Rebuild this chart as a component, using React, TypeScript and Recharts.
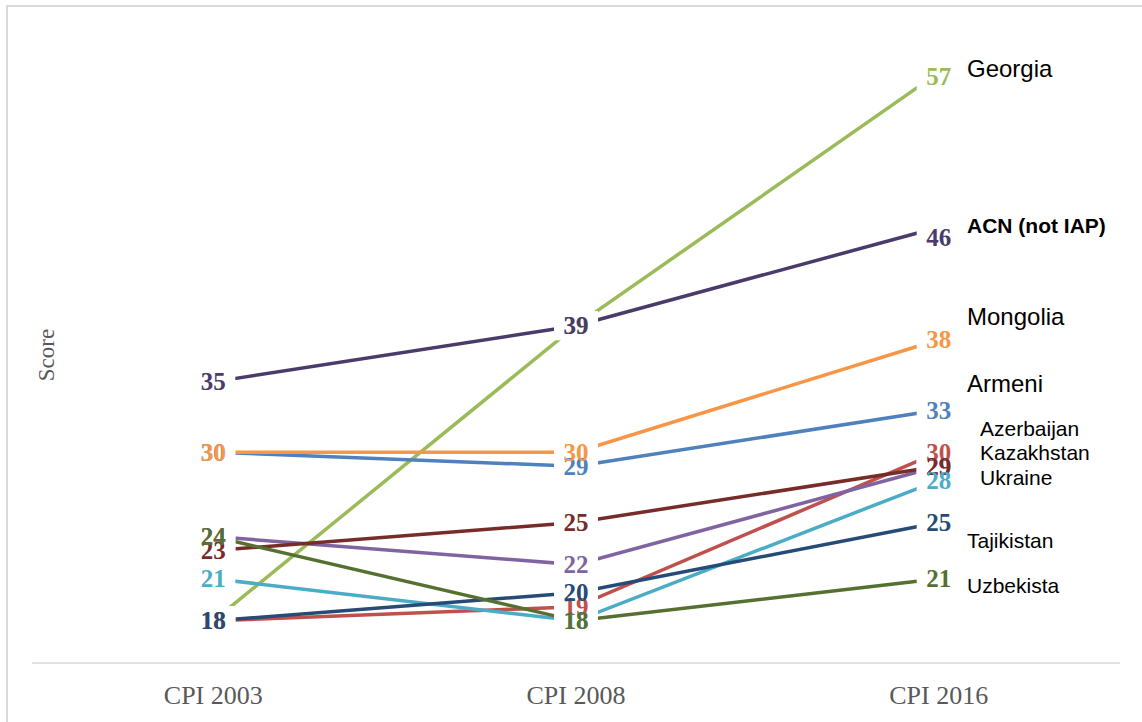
import React from 'react';
import { LineChart, Line, XAxis, YAxis, LabelList } from 'recharts';

const categories = ['CPI 2003', 'CPI 2008', 'CPI 2016'];
const georgia = [18, 39, 57];
const acn = [35, 39, 46];
const mongolia = [30, 30, 38];
const armenia = [30, 29, 33];
const azerbaijan = [18, 19, 30];
const kazakhstan = [23, 25, 29];
const ukraine = [24, 22, 29];
const kyrgyzstan = [21, 18, 28];
const tajikistan = [18, 20, 25];
const uzbekistan = [24, 18, 21];

const series = [
  { key: 'georgia', values: georgia, color: '#9BBB59' },
  { key: 'armenia', values: armenia, color: '#4F81BD' },
  { key: 'azerbaijan', values: azerbaijan, color: '#C0504D' },
  { key: 'ukraine', values: ukraine, color: '#8064A2' },
  { key: 'kazakhstan', values: kazakhstan, color: '#772C2A' },
  { key: 'kyrgyzstan', values: kyrgyzstan, color: '#4BACC6' },
  { key: 'mongolia', values: mongolia, color: '#F79646' },
  { key: 'tajikistan', values: tajikistan, color: '#264B76' },
  { key: 'uzbekistan', values: uzbekistan, color: '#56702F' },
  { key: 'acn', values: acn, color: '#4A3B6A' },
];

const labelShift: Record<string, Record<number, number>> = {
  acn: { 2: 10 },
  georgia: { 2: 4 },
};

const data = categories.map((cat, i) => {
  const row: Record<string, any> = { cat };
  series.forEach((s) => {
    row[s.key] = s.values[i];
  });
  return row;
});

const makeBox = (key: string) => (props: any) => {
  const { x, y, index } = props;
  if (x == null || y == null) return null;
  const shift = (labelShift[key] && labelShift[key][index]) || 0;
  const cy = y + shift;
  return <rect x={x - 22} y={cy - 14.5} width={44} height={29} fill="#ffffff" />;
};

const makeText = (key: string, color: string) => (props: any) => {
  const { x, y, value, index } = props;
  if (x == null || y == null) return null;
  const shift = (labelShift[key] && labelShift[key][index]) || 0;
  const cy = y + shift;
  return (
    <text
      x={x}
      y={cy + 8.5}
      textAnchor="middle"
      fill={color}
      fontFamily="'Liberation Serif', serif"
      fontWeight="bold"
      fontSize={25}
    >
      {value}
    </text>
  );
};

const CatTick = (props: any) => {
  const { x, y, payload } = props;
  return (
    <text
      x={x}
      y={y + 41}
      textAnchor="middle"
      fill="#595959"
      fontFamily="'Liberation Serif', serif"
      fontSize={26}
    >
      {payload.value}
    </text>
  );
};

const names = [
  { text: 'Georgia', x: 967, y: 77, size: 24, bold: false },
  { text: 'ACN (not IAP)', x: 967, y: 233, size: 21, bold: true },
  { text: 'Mongolia', x: 967, y: 325, size: 24, bold: false },
  { text: 'Armeni', x: 967, y: 392, size: 24, bold: false },
  { text: 'Azerbaijan', x: 980, y: 436, size: 21, bold: false },
  { text: 'Kazakhstan', x: 980, y: 460, size: 21, bold: false },
  { text: 'Ukraine', x: 980, y: 485, size: 21, bold: false },
  { text: 'Tajikistan', x: 967, y: 548, size: 21, bold: false },
  { text: 'Uzbekista', x: 967, y: 593, size: 21, bold: false },
];

export default function App() {
  return (
    <div
      style={{
        position: 'absolute',
        left: 0,
        top: 0,
        width: 1142,
        height: 722,
        overflow: 'hidden',
        background: '#ffffff',
      }}
    >
      <div
        style={{
          position: 'absolute',
          left: 6,
          top: 5,
          width: 1300,
          height: 900,
          borderLeft: '2px solid #d9d9d9',
          borderTop: '2px solid #d9d9d9',
        }}
      />
      <div style={{ position: 'absolute', left: 0, top: 0 }}>
        <LineChart
          width={1142}
          height={722}
          data={data}
          margin={{ top: 30.5, right: 22, bottom: 19, left: 32 }}
        >
          <XAxis
            dataKey="cat"
            padding={{ left: 181.3, right: 181.3 }}
            axisLine={{ stroke: '#d9d9d9', strokeWidth: 1.5 }}
            tickLine={false}
            tickSize={0}
            tickMargin={0}
            height={40}
            tick={<CatTick />}
            interval={0}
          />
          <YAxis hide domain={[15, 60]} type="number" />
          {series.map((s) => (
            <Line
              key={s.key}
              dataKey={s.key}
              stroke={s.color}
              strokeWidth={3.5}
              dot={false}
              activeDot={false}
              isAnimationActive={false}
            />
          ))}
          {series.map((s) => (
            <Line
              key={s.key + '-box'}
              dataKey={s.key}
              stroke="none"
              strokeWidth={0}
              dot={false}
              activeDot={false}
              isAnimationActive={false}
              legendType="none"
            >
              <LabelList dataKey={s.key} content={makeBox(s.key)} />
            </Line>
          ))}
          {series.map((s) => (
            <Line
              key={s.key + '-lbl'}
              dataKey={s.key}
              stroke="none"
              strokeWidth={0}
              dot={false}
              activeDot={false}
              isAnimationActive={false}
              legendType="none"
            >
              <LabelList dataKey={s.key} content={makeText(s.key, s.color)} />
            </Line>
          ))}
        </LineChart>
      </div>
      <svg
        width={1142}
        height={722}
        style={{ position: 'absolute', left: 0, top: 0, pointerEvents: 'none' }}
      >
        <text
          transform="translate(54, 355) rotate(-90)"
          textAnchor="middle"
          fill="#595959"
          fontFamily="'Liberation Serif', serif"
          fontSize={23}
        >
          Score
        </text>
        {names.map((n) => (
          <text
            key={n.text}
            x={n.x}
            y={n.y}
            fill="#000000"
            fontFamily="'Liberation Sans', Arial, sans-serif"
            fontWeight={n.bold ? 'bold' : 'normal'}
            fontSize={n.size}
          >
            {n.text}
          </text>
        ))}
      </svg>
    </div>
  );
}
